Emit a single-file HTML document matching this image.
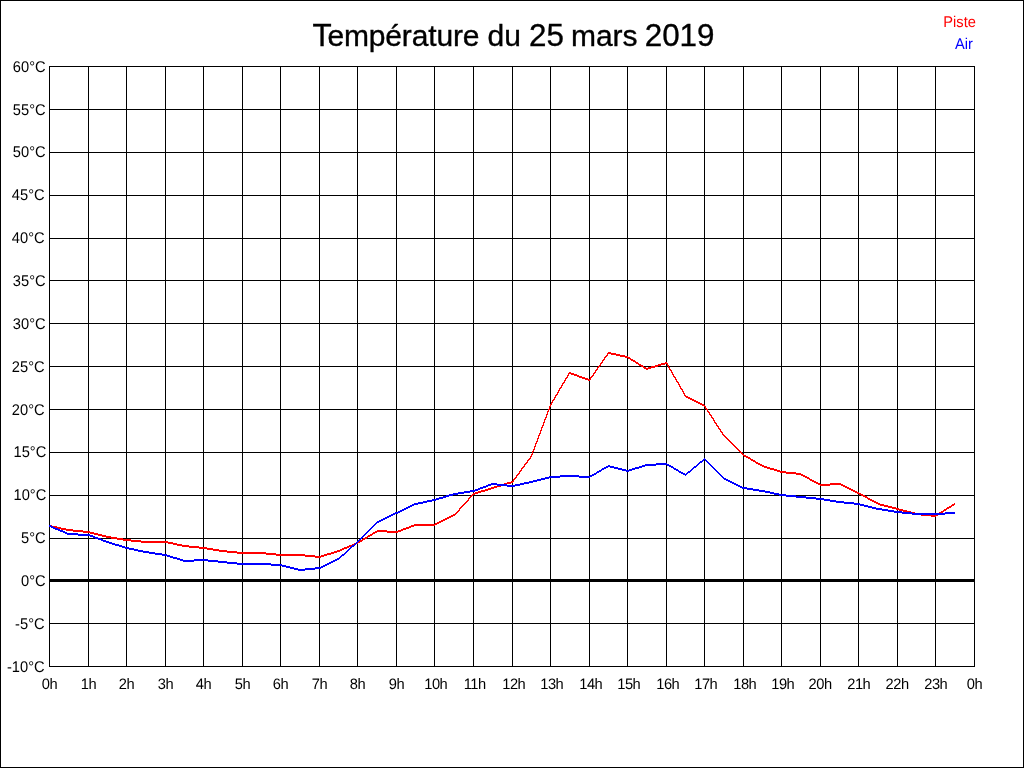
<!DOCTYPE html>
<html lang="fr"><head><meta charset="utf-8"><title>Température du 25 mars 2019</title>
<style>
html,body{margin:0;padding:0;background:#fff;}
body{width:1024px;height:768px;overflow:hidden;}
svg{display:block;position:absolute;left:0;top:0;}
text{font-family:"Liberation Sans",sans-serif;fill:#000;}
.s{font-size:14.67px;text-rendering:geometricPrecision;}
.t{font-size:30px;stroke:#000;stroke-width:0.35px;}
.b{font-size:31.4px;}
.x{letter-spacing:-0.5px;}
</style></head><body>
<svg width="1024" height="768" viewBox="0 0 1024 768">
<rect x="0" y="0" width="1024" height="768" fill="#fff"/>
<path d="M0 0h1024v768h-1024zM1 1v766h1022v-766z" fill="#000" fill-rule="evenodd" shape-rendering="crispEdges"/>
<path d="M49 66h1v601h-1zM88 66h1v601h-1zM126 66h1v601h-1zM165 66h1v601h-1zM203 66h1v601h-1zM242 66h1v601h-1zM280 66h1v601h-1zM319 66h1v601h-1zM357 66h1v601h-1zM396 66h1v601h-1zM434 66h1v601h-1zM473 66h1v601h-1zM512 66h1v601h-1zM550 66h1v601h-1zM589 66h1v601h-1zM627 66h1v601h-1zM666 66h1v601h-1zM704 66h1v601h-1zM743 66h1v601h-1zM781 66h1v601h-1zM820 66h1v601h-1zM858 66h1v601h-1zM897 66h1v601h-1zM935 66h1v601h-1zM974 66h1v601h-1zM49 66h926v1h-926zM49 109h926v1h-926zM49 152h926v1h-926zM49 195h926v1h-926zM49 238h926v1h-926zM49 280h926v1h-926zM49 323h926v1h-926zM49 366h926v1h-926zM49 409h926v1h-926zM49 452h926v1h-926zM49 495h926v1h-926zM49 538h926v1h-926zM49 623h926v1h-926zM49 666h926v1h-926z" fill="#000" shape-rendering="crispEdges"/>
<rect x="49" y="579" width="926" height="3" fill="#000" shape-rendering="crispEdges"/>
<path d="M608 352h3v1h-3zM607 353h9v1h-9zM607 354h1v1h-1zM611 354h9v1h-9zM606 355h2v1h-2zM616 355h9v1h-9zM605 356h2v1h-2zM620 356h8v1h-8zM604 357h2v1h-2zM625 357h5v1h-5zM604 358h1v1h-1zM628 358h3v1h-3zM603 359h2v1h-2zM630 359h3v1h-3zM602 360h2v1h-2zM631 360h4v1h-4zM602 361h1v1h-1zM633 361h3v1h-3zM601 362h2v1h-2zM635 362h3v1h-3zM665 362h2v1h-2zM600 363h2v1h-2zM636 363h3v1h-3zM661 363h7v1h-7zM600 364h1v1h-1zM638 364h3v1h-3zM658 364h7v1h-7zM667 364h1v1h-1zM599 365h2v1h-2zM639 365h4v1h-4zM655 365h6v1h-6zM667 365h2v1h-2zM598 366h2v1h-2zM641 366h3v1h-3zM651 366h7v1h-7zM668 366h1v1h-1zM597 367h2v1h-2zM643 367h3v1h-3zM648 367h7v1h-7zM668 367h2v1h-2zM597 368h1v1h-1zM644 368h7v1h-7zM669 368h1v1h-1zM596 369h2v1h-2zM646 369h2v1h-2zM669 369h2v1h-2zM595 370h2v1h-2zM670 370h2v1h-2zM595 371h1v1h-1zM671 371h1v1h-1zM569 372h2v1h-2zM594 372h2v1h-2zM671 372h2v1h-2zM568 373h6v1h-6zM593 373h2v1h-2zM672 373h1v1h-1zM568 374h1v1h-1zM571 374h6v1h-6zM593 374h1v1h-1zM672 374h2v1h-2zM567 375h2v1h-2zM574 375h5v1h-5zM592 375h2v1h-2zM673 375h1v1h-1zM567 376h1v1h-1zM577 376h5v1h-5zM591 376h2v1h-2zM673 376h2v1h-2zM566 377h2v1h-2zM579 377h6v1h-6zM590 377h2v1h-2zM674 377h2v1h-2zM565 378h2v1h-2zM582 378h6v1h-6zM590 378h1v1h-1zM675 378h1v1h-1zM565 379h1v1h-1zM585 379h6v1h-6zM675 379h2v1h-2zM564 380h2v1h-2zM588 380h2v1h-2zM676 380h1v1h-1zM564 381h1v1h-1zM676 381h2v1h-2zM563 382h2v1h-2zM677 382h2v1h-2zM562 383h2v1h-2zM678 383h1v1h-1zM562 384h1v1h-1zM678 384h2v1h-2zM561 385h2v1h-2zM679 385h1v1h-1zM561 386h1v1h-1zM679 386h2v1h-2zM560 387h2v1h-2zM680 387h1v1h-1zM559 388h2v1h-2zM680 388h2v1h-2zM559 389h1v1h-1zM681 389h2v1h-2zM558 390h2v1h-2zM682 390h1v1h-1zM558 391h1v1h-1zM682 391h2v1h-2zM557 392h2v1h-2zM683 392h1v1h-1zM557 393h1v1h-1zM683 393h2v1h-2zM556 394h2v1h-2zM684 394h1v1h-1zM555 395h2v1h-2zM684 395h2v1h-2zM555 396h1v1h-1zM685 396h3v1h-3zM554 397h2v1h-2zM686 397h4v1h-4zM554 398h1v1h-1zM688 398h4v1h-4zM553 399h2v1h-2zM690 399h4v1h-4zM552 400h2v1h-2zM692 400h4v1h-4zM552 401h1v1h-1zM694 401h4v1h-4zM551 402h2v1h-2zM696 402h4v1h-4zM551 403h1v1h-1zM698 403h4v1h-4zM550 404h2v1h-2zM700 404h4v1h-4zM550 405h1v1h-1zM702 405h3v1h-3zM549 406h2v1h-2zM704 406h2v1h-2zM549 407h1v1h-1zM705 407h1v1h-1zM549 408h1v1h-1zM705 408h2v1h-2zM548 409h2v1h-2zM706 409h2v1h-2zM548 410h1v1h-1zM707 410h1v1h-1zM547 411h2v1h-2zM707 411h2v1h-2zM547 412h1v1h-1zM708 412h2v1h-2zM547 413h1v1h-1zM709 413h1v1h-1zM546 414h2v1h-2zM709 414h2v1h-2zM546 415h1v1h-1zM710 415h2v1h-2zM546 416h1v1h-1zM711 416h1v1h-1zM545 417h2v1h-2zM711 417h2v1h-2zM545 418h1v1h-1zM712 418h2v1h-2zM544 419h2v1h-2zM713 419h1v1h-1zM544 420h1v1h-1zM713 420h2v1h-2zM544 421h1v1h-1zM714 421h1v1h-1zM543 422h2v1h-2zM714 422h2v1h-2zM543 423h1v1h-1zM715 423h2v1h-2zM543 424h1v1h-1zM716 424h1v1h-1zM542 425h2v1h-2zM716 425h2v1h-2zM542 426h1v1h-1zM717 426h2v1h-2zM541 427h2v1h-2zM718 427h1v1h-1zM541 428h1v1h-1zM718 428h2v1h-2zM541 429h1v1h-1zM719 429h2v1h-2zM540 430h2v1h-2zM720 430h1v1h-1zM540 431h1v1h-1zM720 431h2v1h-2zM540 432h1v1h-1zM721 432h2v1h-2zM539 433h2v1h-2zM722 433h1v1h-1zM539 434h1v1h-1zM722 434h2v1h-2zM538 435h2v1h-2zM723 435h2v1h-2zM538 436h1v1h-1zM724 436h2v1h-2zM538 437h1v1h-1zM725 437h2v1h-2zM537 438h2v1h-2zM726 438h2v1h-2zM537 439h1v1h-1zM727 439h2v1h-2zM537 440h1v1h-1zM728 440h2v1h-2zM536 441h2v1h-2zM729 441h2v1h-2zM536 442h1v1h-1zM730 442h2v1h-2zM535 443h2v1h-2zM731 443h2v1h-2zM535 444h1v1h-1zM732 444h2v1h-2zM535 445h1v1h-1zM733 445h2v1h-2zM534 446h2v1h-2zM734 446h2v1h-2zM534 447h1v1h-1zM735 447h2v1h-2zM534 448h1v1h-1zM736 448h2v1h-2zM533 449h2v1h-2zM737 449h2v1h-2zM533 450h1v1h-1zM738 450h2v1h-2zM532 451h2v1h-2zM739 451h2v1h-2zM532 452h1v1h-1zM740 452h2v1h-2zM532 453h1v1h-1zM741 453h2v1h-2zM531 454h2v1h-2zM742 454h2v1h-2zM531 455h1v1h-1zM743 455h3v1h-3zM530 456h2v1h-2zM744 456h4v1h-4zM530 457h1v1h-1zM746 457h4v1h-4zM529 458h2v1h-2zM748 458h3v1h-3zM528 459h2v1h-2zM750 459h3v1h-3zM527 460h2v1h-2zM751 460h4v1h-4zM527 461h1v1h-1zM753 461h3v1h-3zM526 462h2v1h-2zM755 462h3v1h-3zM525 463h2v1h-2zM756 463h4v1h-4zM524 464h2v1h-2zM758 464h4v1h-4zM524 465h1v1h-1zM760 465h4v1h-4zM523 466h2v1h-2zM762 466h5v1h-5zM522 467h2v1h-2zM764 467h6v1h-6zM521 468h2v1h-2zM767 468h7v1h-7zM521 469h1v1h-1zM770 469h7v1h-7zM520 470h2v1h-2zM774 470h6v1h-6zM519 471h2v1h-2zM777 471h9v1h-9zM519 472h1v1h-1zM780 472h16v1h-16zM518 473h2v1h-2zM786 473h15v1h-15zM517 474h2v1h-2zM796 474h7v1h-7zM516 475h2v1h-2zM801 475h4v1h-4zM516 476h1v1h-1zM803 476h4v1h-4zM515 477h2v1h-2zM805 477h4v1h-4zM514 478h2v1h-2zM807 478h3v1h-3zM513 479h2v1h-2zM809 479h3v1h-3zM513 480h1v1h-1zM810 480h4v1h-4zM511 481h3v1h-3zM812 481h4v1h-4zM507 482h6v1h-6zM814 482h4v1h-4zM504 483h7v1h-7zM816 483h4v1h-4zM830 483h11v1h-11zM501 484h6v1h-6zM818 484h25v1h-25zM497 485h7v1h-7zM820 485h10v1h-10zM841 485h4v1h-4zM494 486h7v1h-7zM843 486h4v1h-4zM491 487h6v1h-6zM845 487h4v1h-4zM488 488h6v1h-6zM847 488h4v1h-4zM485 489h6v1h-6zM849 489h4v1h-4zM481 490h7v1h-7zM851 490h4v1h-4zM478 491h7v1h-7zM853 491h4v1h-4zM475 492h6v1h-6zM855 492h4v1h-4zM473 493h5v1h-5zM857 493h4v1h-4zM472 494h3v1h-3zM859 494h4v1h-4zM471 495h2v1h-2zM861 495h4v1h-4zM470 496h2v1h-2zM863 496h4v1h-4zM469 497h2v1h-2zM865 497h3v1h-3zM468 498h2v1h-2zM867 498h3v1h-3zM468 499h1v1h-1zM868 499h4v1h-4zM467 500h2v1h-2zM870 500h4v1h-4zM466 501h2v1h-2zM872 501h4v1h-4zM465 502h2v1h-2zM874 502h4v1h-4zM464 503h2v1h-2zM876 503h4v1h-4zM954 503h1v1h-1zM463 504h2v1h-2zM878 504h6v1h-6zM952 504h3v1h-3zM462 505h2v1h-2zM880 505h8v1h-8zM951 505h3v1h-3zM461 506h2v1h-2zM884 506h8v1h-8zM949 506h3v1h-3zM460 507h2v1h-2zM888 507h8v1h-8zM947 507h4v1h-4zM459 508h2v1h-2zM892 508h7v1h-7zM946 508h3v1h-3zM459 509h1v1h-1zM896 509h7v1h-7zM944 509h3v1h-3zM458 510h2v1h-2zM899 510h8v1h-8zM943 510h3v1h-3zM457 511h2v1h-2zM903 511h8v1h-8zM941 511h3v1h-3zM456 512h2v1h-2zM907 512h8v1h-8zM939 512h4v1h-4zM455 513h2v1h-2zM911 513h10v1h-10zM938 513h3v1h-3zM453 514h3v1h-3zM915 514h16v1h-16zM936 514h3v1h-3zM451 515h4v1h-4zM921 515h17v1h-17zM449 516h4v1h-4zM931 516h5v1h-5zM447 517h4v1h-4zM445 518h4v1h-4zM443 519h4v1h-4zM441 520h4v1h-4zM439 521h4v1h-4zM437 522h4v1h-4zM435 523h4v1h-4zM414 524h23v1h-23zM49 525h3v1h-3zM411 525h24v1h-24zM49 526h8v1h-8zM409 526h5v1h-5zM52 527h9v1h-9zM406 527h5v1h-5zM57 528h9v1h-9zM403 528h6v1h-6zM61 529h12v1h-12zM401 529h5v1h-5zM66 530h17v1h-17zM377 530h10v1h-10zM398 530h5v1h-5zM73 531h17v1h-17zM375 531h26v1h-26zM83 532h11v1h-11zM373 532h4v1h-4zM387 532h11v1h-11zM90 533h8v1h-8zM372 533h3v1h-3zM94 534h8v1h-8zM370 534h3v1h-3zM98 535h8v1h-8zM368 535h4v1h-4zM102 536h9v1h-9zM367 536h3v1h-3zM106 537h11v1h-11zM365 537h3v1h-3zM111 538h12v1h-12zM363 538h4v1h-4zM117 539h14v1h-14zM362 539h3v1h-3zM123 540h18v1h-18zM360 540h3v1h-3zM131 541h37v1h-37zM358 541h4v1h-4zM141 542h32v1h-32zM356 542h4v1h-4zM168 543h9v1h-9zM354 543h4v1h-4zM173 544h9v1h-9zM352 544h4v1h-4zM177 545h12v1h-12zM349 545h5v1h-5zM182 546h17v1h-17zM347 546h5v1h-5zM189 547h18v1h-18zM344 547h5v1h-5zM199 548h14v1h-14zM342 548h5v1h-5zM207 549h12v1h-12zM340 549h4v1h-4zM213 550h14v1h-14zM337 550h5v1h-5zM219 551h18v1h-18zM334 551h6v1h-6zM227 552h39v1h-39zM331 552h6v1h-6zM237 553h39v1h-39zM327 553h7v1h-7zM266 554h39v1h-39zM324 554h7v1h-7zM276 555h39v1h-39zM321 555h6v1h-6zM305 556h19v1h-19zM315 557h6v1h-6z" fill="#f00" shape-rendering="crispEdges"/>
<path d="M704 458h1v1h-1zM703 459h3v1h-3zM702 460h2v1h-2zM705 460h2v1h-2zM700 461h3v1h-3zM706 461h2v1h-2zM699 462h3v1h-3zM707 462h2v1h-2zM656 463h11v1h-11zM698 463h2v1h-2zM708 463h2v1h-2zM645 464h24v1h-24zM697 464h2v1h-2zM709 464h2v1h-2zM608 465h2v1h-2zM642 465h14v1h-14zM667 465h4v1h-4zM696 465h2v1h-2zM710 465h2v1h-2zM606 466h8v1h-8zM639 466h6v1h-6zM669 466h4v1h-4zM694 466h3v1h-3zM711 466h2v1h-2zM604 467h4v1h-4zM610 467h8v1h-8zM635 467h7v1h-7zM671 467h3v1h-3zM693 467h3v1h-3zM712 467h2v1h-2zM602 468h4v1h-4zM614 468h8v1h-8zM632 468h7v1h-7zM673 468h3v1h-3zM692 468h2v1h-2zM713 468h2v1h-2zM601 469h3v1h-3zM618 469h8v1h-8zM629 469h6v1h-6zM674 469h4v1h-4zM691 469h2v1h-2zM714 469h2v1h-2zM599 470h3v1h-3zM622 470h10v1h-10zM676 470h3v1h-3zM690 470h2v1h-2zM715 470h2v1h-2zM597 471h4v1h-4zM626 471h3v1h-3zM678 471h3v1h-3zM688 471h3v1h-3zM716 471h2v1h-2zM596 472h3v1h-3zM679 472h4v1h-4zM687 472h3v1h-3zM717 472h2v1h-2zM594 473h3v1h-3zM681 473h4v1h-4zM686 473h2v1h-2zM718 473h2v1h-2zM592 474h4v1h-4zM683 474h4v1h-4zM719 474h2v1h-2zM560 475h19v1h-19zM590 475h4v1h-4zM685 475h1v1h-1zM720 475h2v1h-2zM549 476h43v1h-43zM721 476h2v1h-2zM545 477h15v1h-15zM579 477h11v1h-11zM722 477h2v1h-2zM541 478h8v1h-8zM723 478h3v1h-3zM537 479h8v1h-8zM724 479h4v1h-4zM533 480h8v1h-8zM726 480h4v1h-4zM529 481h8v1h-8zM728 481h4v1h-4zM524 482h9v1h-9zM730 482h4v1h-4zM491 483h6v1h-6zM520 483h9v1h-9zM732 483h4v1h-4zM488 484h19v1h-19zM515 484h9v1h-9zM734 484h4v1h-4zM486 485h5v1h-5zM497 485h23v1h-23zM736 485h4v1h-4zM483 486h5v1h-5zM507 486h8v1h-8zM738 486h4v1h-4zM480 487h6v1h-6zM740 487h7v1h-7zM478 488h5v1h-5zM742 488h11v1h-11zM475 489h5v1h-5zM747 489h12v1h-12zM470 490h8v1h-8zM753 490h12v1h-12zM464 491h11v1h-11zM759 491h11v1h-11zM458 492h12v1h-12zM765 492h9v1h-9zM453 493h11v1h-11zM770 493h9v1h-9zM449 494h9v1h-9zM774 494h12v1h-12zM446 495h7v1h-7zM779 495h17v1h-17zM443 496h6v1h-6zM786 496h20v1h-20zM439 497h7v1h-7zM796 497h20v1h-20zM436 498h7v1h-7zM806 498h18v1h-18zM432 499h7v1h-7zM816 499h14v1h-14zM427 500h9v1h-9zM824 500h12v1h-12zM423 501h9v1h-9zM830 501h14v1h-14zM418 502h9v1h-9zM836 502h18v1h-18zM414 503h9v1h-9zM844 503h16v1h-16zM412 504h6v1h-6zM854 504h10v1h-10zM410 505h4v1h-4zM860 505h8v1h-8zM408 506h4v1h-4zM864 506h8v1h-8zM406 507h4v1h-4zM868 507h8v1h-8zM404 508h4v1h-4zM872 508h10v1h-10zM402 509h4v1h-4zM876 509h12v1h-12zM400 510h4v1h-4zM882 510h12v1h-12zM398 511h4v1h-4zM888 511h14v1h-14zM395 512h5v1h-5zM894 512h18v1h-18zM945 512h10v1h-10zM393 513h5v1h-5zM902 513h53v1h-53zM391 514h4v1h-4zM912 514h33v1h-33zM389 515h4v1h-4zM387 516h4v1h-4zM385 517h4v1h-4zM383 518h4v1h-4zM381 519h4v1h-4zM379 520h4v1h-4zM377 521h4v1h-4zM376 522h3v1h-3zM375 523h2v1h-2zM374 524h2v1h-2zM49 525h2v1h-2zM373 525h2v1h-2zM49 526h4v1h-4zM372 526h2v1h-2zM51 527h4v1h-4zM371 527h2v1h-2zM53 528h5v1h-5zM370 528h2v1h-2zM55 529h5v1h-5zM369 529h2v1h-2zM58 530h5v1h-5zM368 530h2v1h-2zM60 531h5v1h-5zM367 531h2v1h-2zM63 532h4v1h-4zM366 532h2v1h-2zM65 533h13v1h-13zM365 533h2v1h-2zM67 534h23v1h-23zM364 534h2v1h-2zM78 535h15v1h-15zM363 535h2v1h-2zM90 536h5v1h-5zM362 536h2v1h-2zM93 537h5v1h-5zM361 537h2v1h-2zM95 538h6v1h-6zM360 538h2v1h-2zM98 539h5v1h-5zM359 539h2v1h-2zM101 540h5v1h-5zM358 540h2v1h-2zM103 541h6v1h-6zM357 541h2v1h-2zM106 542h6v1h-6zM356 542h2v1h-2zM109 543h6v1h-6zM355 543h2v1h-2zM112 544h7v1h-7zM354 544h2v1h-2zM115 545h7v1h-7zM352 545h3v1h-3zM119 546h6v1h-6zM351 546h3v1h-3zM122 547h7v1h-7zM350 547h2v1h-2zM125 548h9v1h-9zM349 548h2v1h-2zM129 549h9v1h-9zM348 549h2v1h-2zM134 550h9v1h-9zM347 550h2v1h-2zM138 551h11v1h-11zM346 551h2v1h-2zM143 552h12v1h-12zM345 552h2v1h-2zM149 553h13v1h-13zM344 553h2v1h-2zM155 554h12v1h-12zM342 554h3v1h-3zM162 555h8v1h-8zM341 555h3v1h-3zM167 556h6v1h-6zM340 556h2v1h-2zM170 557h7v1h-7zM339 557h2v1h-2zM173 558h7v1h-7zM337 558h3v1h-3zM177 559h6v1h-6zM194 559h14v1h-14zM335 559h4v1h-4zM180 560h38v1h-38zM333 560h4v1h-4zM183 561h11v1h-11zM208 561h19v1h-19zM331 561h4v1h-4zM218 562h19v1h-19zM329 562h4v1h-4zM227 563h44v1h-44zM327 563h4v1h-4zM237 564h45v1h-45zM325 564h4v1h-4zM271 565h15v1h-15zM323 565h4v1h-4zM282 566h8v1h-8zM321 566h4v1h-4zM286 567h8v1h-8zM315 567h8v1h-8zM290 568h8v1h-8zM305 568h16v1h-16zM294 569h21v1h-21zM298 570h7v1h-7z" fill="#00f" shape-rendering="crispEdges"/>
<text class="t" x="312.5" y="46"><tspan class="b">T</tspan><tspan dx="-4.29" style="letter-spacing:-0.15px">empérature</tspan> <tspan dx="-0.16">du</tspan> <tspan class="b" dx="-0.22">25</tspan> <tspan dx="-1.32">mars</tspan> <tspan class="b" dx="-1.26">2019</tspan></text>
<text class="s" transform="translate(975.9,27) scale(1,1.06)" text-anchor="end" style="fill:#f00">Piste</text>
<text class="s" transform="translate(973,49) scale(1,1.06)" text-anchor="end" style="fill:#00f">Air</text>
<text class="s" transform="translate(45.6,72) scale(1,1.06)" text-anchor="end">60°C</text>
<text class="s" transform="translate(45.6,115) scale(1,1.06)" text-anchor="end">55°C</text>
<text class="s" transform="translate(45.6,157) scale(1,1.06)" text-anchor="end">50°C</text>
<text class="s" transform="translate(44.6,200) scale(1,1.06)" text-anchor="end">45°C</text>
<text class="s" transform="translate(44.6,243) scale(1,1.06)" text-anchor="end">40°C</text>
<text class="s" transform="translate(45.6,286) scale(1,1.06)" text-anchor="end">35°C</text>
<text class="s" transform="translate(45.6,329) scale(1,1.06)" text-anchor="end">30°C</text>
<text class="s" transform="translate(44.6,372) scale(1,1.06)" text-anchor="end">25°C</text>
<text class="s" transform="translate(44.6,415) scale(1,1.06)" text-anchor="end">20°C</text>
<text class="s" transform="translate(46.3,457) scale(1,1.06)" text-anchor="end">15°C</text>
<text class="s" transform="translate(46.3,500) scale(1,1.06)" text-anchor="end">10°C</text>
<text class="s" transform="translate(45.6,543) scale(1,1.06)" text-anchor="end">5°C</text>
<text class="s" transform="translate(45.6,586) scale(1,1.06)" text-anchor="end">0°C</text>
<text class="s" transform="translate(44.6,629) scale(1,1.06)" text-anchor="end">-5°C</text>
<text class="s" transform="translate(44.6,672) scale(1,1.06)" text-anchor="end">-10°C</text>
<text class="s x" transform="translate(49.50,689) scale(1,1.03)" text-anchor="middle">0h</text>
<text class="s x" transform="translate(88.50,689) scale(1,1.03)" text-anchor="middle">1h</text>
<text class="s x" transform="translate(126.50,689) scale(1,1.03)" text-anchor="middle">2h</text>
<text class="s x" transform="translate(165.50,689) scale(1,1.03)" text-anchor="middle">3h</text>
<text class="s x" transform="translate(203.50,689) scale(1,1.03)" text-anchor="middle">4h</text>
<text class="s x" transform="translate(242.50,689) scale(1,1.03)" text-anchor="middle">5h</text>
<text class="s x" transform="translate(280.50,689) scale(1,1.03)" text-anchor="middle">6h</text>
<text class="s x" transform="translate(319.50,689) scale(1,1.03)" text-anchor="middle">7h</text>
<text class="s x" transform="translate(357.50,689) scale(1,1.03)" text-anchor="middle">8h</text>
<text class="s x" transform="translate(396.50,689) scale(1,1.03)" text-anchor="middle">9h</text>
<text class="s x" transform="translate(435.75,689) scale(1,1.03)" text-anchor="middle">10h</text>
<text class="s x" transform="translate(474.75,689) scale(1,1.03)" text-anchor="middle">11h</text>
<text class="s x" transform="translate(513.75,689) scale(1,1.03)" text-anchor="middle">12h</text>
<text class="s x" transform="translate(551.75,689) scale(1,1.03)" text-anchor="middle">13h</text>
<text class="s x" transform="translate(590.75,689) scale(1,1.03)" text-anchor="middle">14h</text>
<text class="s x" transform="translate(628.75,689) scale(1,1.03)" text-anchor="middle">15h</text>
<text class="s x" transform="translate(667.75,689) scale(1,1.03)" text-anchor="middle">16h</text>
<text class="s x" transform="translate(705.75,689) scale(1,1.03)" text-anchor="middle">17h</text>
<text class="s x" transform="translate(744.75,689) scale(1,1.03)" text-anchor="middle">18h</text>
<text class="s x" transform="translate(782.75,689) scale(1,1.03)" text-anchor="middle">19h</text>
<text class="s x" transform="translate(820.10,689) scale(1,1.03)" text-anchor="middle">20h</text>
<text class="s x" transform="translate(858.75,689) scale(1,1.03)" text-anchor="middle">21h</text>
<text class="s x" transform="translate(897.10,689) scale(1,1.03)" text-anchor="middle">22h</text>
<text class="s x" transform="translate(935.75,689) scale(1,1.03)" text-anchor="middle">23h</text>
<text class="s x" transform="translate(974.50,689) scale(1,1.03)" text-anchor="middle">0h</text>
</svg>
</body></html>
